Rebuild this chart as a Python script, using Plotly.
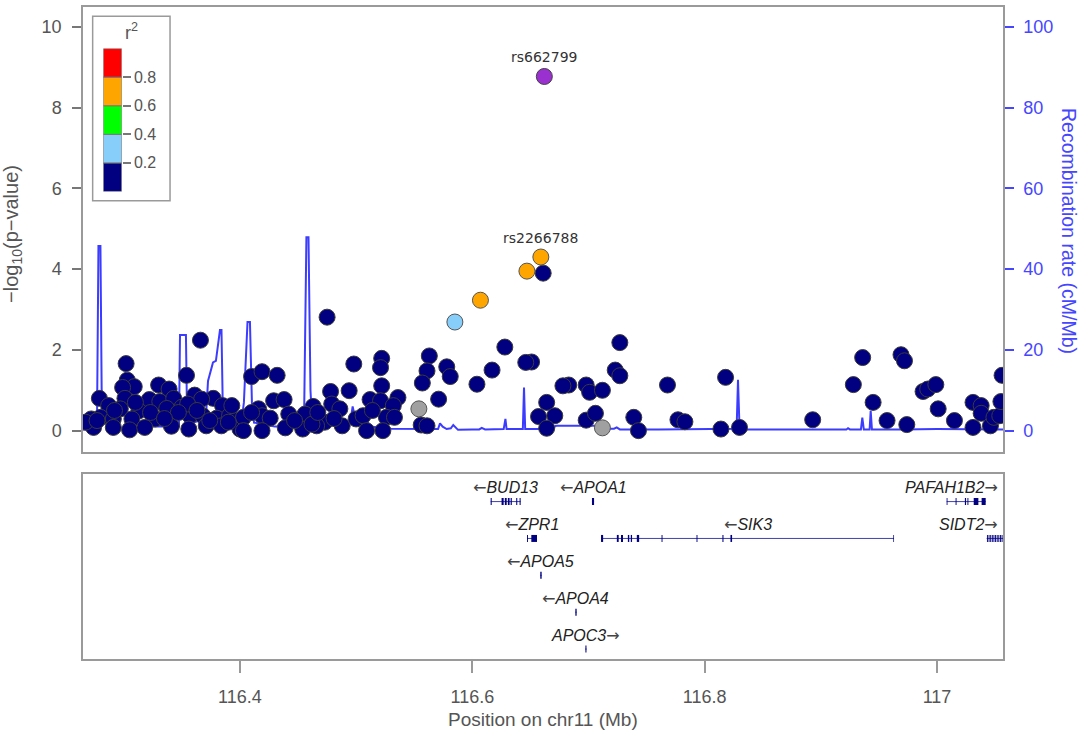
"""Regional association plot around the APOA5/APOA1 locus on chr11."""

import plotly.graph_objects as go

# ---- data -----------------------------------------------------------------
X_RANGE = [116.2649, 117.0568]

# r2 < 0.2 (navy)
navy_pos = [
    116.366, 116.302, 116.354, 116.303, 116.309, 116.299, 116.330, 116.339, 116.279, 116.301,
    116.322, 116.331, 116.343, 116.361, 116.377, 116.367, 116.287, 116.313, 116.297, 116.337,
    116.350, 116.385, 116.272, 116.280, 116.291, 116.307, 116.327, 116.357, 116.368, 116.380,
    116.391, 116.274, 116.291, 116.305, 116.318, 116.341, 116.356, 116.371, 116.384, 116.400,
    116.267, 116.410, 116.403, 116.390, 116.355, 116.277, 116.323, 116.347, 116.292, 116.310,
    116.335, 116.363, 116.374, 116.393,
    116.419, 116.432, 116.498, 116.522, 116.521, 116.478, 116.494, 116.522, 116.429, 116.438,
    116.463, 116.479, 116.486, 116.512, 116.521, 116.536, 116.532, 116.416, 116.442, 116.419,
    116.426, 116.456, 116.473, 116.488, 116.500, 116.506, 116.526, 116.533, 116.403, 116.419,
    116.439, 116.454, 116.466, 116.509, 116.523, 116.462, 116.475, 116.410, 116.447, 116.467,
    116.481, 116.514,
    116.628, 116.651, 116.646, 116.727, 116.563, 116.561, 116.578, 116.581, 116.557, 116.617,
    116.604, 116.571, 116.683, 116.678, 116.698, 116.701, 116.712, 116.723, 116.727, 116.664,
    116.657, 116.671, 116.664, 116.698, 116.706, 116.739, 116.743, 116.556, 116.561, 116.768,
    116.777, 116.783, 116.661,
    116.818, 116.814, 116.830, 116.893, 116.936, 116.928, 116.945, 116.957, 116.974, 116.969,
    116.972, 116.988, 116.992, 116.999, 117.001, 117.015, 117.031, 117.031, 117.038, 117.038,
    117.046, 117.049, 117.054, 117.055, 117.056,
]
navy_logp = [
    2.24, 1.66, 1.37, 1.25, 1.09, 1.07, 1.13, 1.03, 0.80, 0.80,
    0.77, 0.72, 0.80, 0.88, 0.80, 0.78, 0.62, 0.49, 0.54, 0.55,
    0.58, 0.62, 0.29, 0.33, 0.29, 0.29, 0.29, 0.37, 0.37, 0.31,
    0.37, 0.08, 0.08, 0.02, 0.08, 0.11, 0.04, 0.12, 0.12, 0.04,
    0.21, 1.34, 0.33, 0.21, 0.66, 0.25, 0.45, 0.45, 0.50, 0.70,
    0.30, 0.50, 0.25, 0.62,
    1.46, 1.37, 1.65, 1.79, 1.56, 0.97, 0.99, 1.11, 0.74, 0.77,
    0.60, 0.66, 0.54, 0.77, 0.74, 0.82, 0.62, 0.54, 0.41, 0.37,
    0.31, 0.41, 0.21, 0.12, 0.29, 0.37, 0.33, 0.33, 0.00, 0.00,
    0.07, 0.04, 0.12, 0.00, 0.00, 0.16, 2.81, 0.45, 0.25, 0.45,
    0.30, 0.50,
    2.07, 1.70, 1.69, 2.18, 1.85, 1.48, 1.58, 1.34, 1.18, 1.50,
    1.15, 0.78, 1.13, 1.11, 1.13, 0.95, 1.00, 1.50, 1.36, 0.70,
    0.35, 0.37, 0.06, 0.26, 0.43, 0.33, 0.00, 0.14, 0.12, 1.13,
    0.27, 0.22, 3.90,
    1.32, 0.04, 0.08, 0.27, 1.81, 1.14, 0.70, 0.25, 0.15, 1.88,
    1.73, 0.97, 1.03, 1.14, 0.54, 0.25, 0.08, 0.70, 0.62, 0.43,
    0.12, 0.33, 0.37, 0.72, 1.37,
]

# no LD information (grey)
grey_pos = [116.554, 116.712]
grey_logp = [0.54, 0.07]

# 0.2 <= r2 < 0.4 (light blue)
lightblue_pos = [116.585]
lightblue_logp = [2.69]

# 0.6 <= r2 < 0.8 (orange)
orange_pos = [116.607, 116.647, 116.659]
orange_logp = [3.23, 3.95, 4.30]

# index SNP
lead_pos = [116.662]
lead_logp = [8.77]

labelled_snps = ["rs662799", "rs2266788"]
labelled_pos = [116.662, 116.659]
labelled_logp = [8.77, 4.30]

# recombination rate (cM/Mb)
recomb_pos = [
    116.2649, 116.2769, 116.2782, 116.2799, 116.2812, 116.2930, 116.2993, 116.3053, 116.3122, 116.3200,
    116.3400, 116.3475, 116.3484, 116.3535, 116.3544, 116.3600, 116.3707, 116.3725, 116.3768, 116.3793,
    116.3828, 116.3841, 116.3854, 116.3950, 116.4017, 116.4034, 116.4065, 116.4086, 116.4103, 116.4121,
    116.4300, 116.4551, 116.4572, 116.4590, 116.4607, 116.4620, 116.4800, 116.4950, 116.4970, 116.5000,
    116.5050, 116.5120, 116.5300, 116.5600, 116.5705, 116.5722, 116.5745, 116.5779, 116.5815, 116.5836,
    116.5860, 116.5877, 116.6000, 116.6060, 116.6081, 116.6110, 116.6270, 116.6285, 116.6295, 116.6435,
    116.6445, 116.6455, 116.6680, 116.6720, 116.7050, 116.7080, 116.7220, 116.7243, 116.7270, 116.7600,
    116.8275, 116.8287, 116.8300, 116.8320, 116.8340, 116.8800, 116.9220, 116.9234, 116.9250, 116.9345,
    116.9357, 116.9370, 116.9420, 116.9429, 116.9440, 116.9700, 117.0000, 117.0568,
]
recomb_rate = [
    0.3, 0.5, 45.7, 45.7, 2.0, 1.0, 14.0, 7.0, 2.0, 1.0,
    1.0, 1.0, 23.7, 23.7, 5.0, 2.0, 3.0, 12.3, 16.9, 17.3,
    24.9, 24.9, 3.0, 2.0, 3.0, 7.0, 26.9, 26.9, 7.0, 2.0,
    1.0, 1.0, 47.9, 47.9, 10.0, 3.0, 1.5, 2.0, 6.0, 2.0,
    5.0, 1.0, 0.5, 0.3, 0.4, 1.8, 1.0, 0.4, 0.6, 1.4,
    0.8, 0.2, 0.3, 0.3, 0.7, 0.3, 0.4, 2.9, 0.4, 0.4,
    10.7, 0.4, 0.4, 1.2, 1.2, 0.5, 0.5, 0.8, 0.3, 0.3,
    0.5, 12.6, 0.8, 1.0, 0.3, 0.3, 0.3, 0.6, 0.3, 0.3,
    3.2, 0.3, 0.3, 4.9, 0.3, 0.3, 0.4, 0.3,
]

# genes
gene_names = ["BUD13", "APOA1", "PAFAH1B2", "ZPR1", "SIK3", "SIDT2", "APOA5", "APOA4", "APOC3"]
gene_strand = ["-", "-", "+", "-", "-", "+", "-", "-", "+"]
gene_row = [1, 1, 1, 2, 2, 2, 3, 4, 5]
gene_start = [116.6158, 116.7030, 117.0083, 116.6471, 116.7108, 117.0427, 116.6585, 116.6887, 116.6972]
gene_end = [116.6416, 116.7048, 117.0419, 116.6557, 116.9630, 117.0700, 116.6597, 116.6898, 116.6984]
gene_exons = [
    [(116.6158, 116.6167), (116.6252, 116.6270), (116.6280, 116.6296), (116.6306, 116.6321),
     (116.6330, 116.6340), (116.6378, 116.6387), (116.6407, 116.6416)],
    [(116.7030, 116.7048)],
    [(117.0083, 117.0090), (117.0160, 117.0168), (117.0240, 117.0250), (117.0262, 117.0270),
     (117.0316, 117.0356), (117.0384, 117.0419)],
    [(116.6471, 116.6479), (116.6508, 116.6557)],
    [(116.7108, 116.7126), (116.7244, 116.7260), (116.7280, 116.7297), (116.7339, 116.7351),
     (116.7364, 116.7375), (116.7416, 116.7436), (116.7629, 116.7637), (116.7930, 116.7938),
     (116.8153, 116.8162), (116.8222, 116.8236), (116.9624, 116.9630)],
    [(117.0430, 117.0438), (117.0444, 117.0452), (117.0458, 117.0466), (117.0472, 117.0480),
     (117.0486, 117.0494), (117.0500, 117.0508), (117.0514, 117.0522), (117.0528, 117.0536),
     (117.0542, 117.0550), (117.0556, 117.0564)],
    [(116.6585, 116.6597)],
    [(116.6887, 116.6898)],
    [(116.6972, 116.6977), (116.6980, 116.6984)],
]

# r2 legend
legend_bounds = [0.0, 0.2, 0.4, 0.6, 0.8, 1.0]
legend_colors = ["#000080", "#87cefa", "#00ff00", "#ffa500", "#ff0000"]
legend_ticks = [0.2, 0.4, 0.6, 0.8]

x_ticks = [116.4, 116.6, 116.8, 117.0]
x_tick_text = ["116.4", "116.6", "116.8", "117"]

# ---- figure ---------------------------------------------------------------
FONT = "Liberation Sans, Arial, sans-serif"
GREY = "#555555"
FRAME = "#9a9a9a"
BLUE = "#4646ff"

fig = go.Figure()

# recombination line sits on the base axis so the SNPs (overlay axis) draw above it
fig.add_trace(go.Scatter(
    x=recomb_pos, y=recomb_rate, mode="lines",
    line=dict(color="#3c3cff", width=2),
    xaxis="x", yaxis="y", hoverinfo="skip", showlegend=False,
))


def add_snps(pos, logp, color, outline, size=16):
    fig.add_trace(go.Scatter(
        x=pos, y=logp, mode="markers",
        marker=dict(size=size, color=color, line=dict(color=outline, width=1)),
        xaxis="x", yaxis="y2", showlegend=False,
    ))


add_snps(grey_pos, grey_logp, "#a0a0a0", "#555555")
add_snps(navy_pos, navy_logp, "#000080", "#3a3a3a")
add_snps(lightblue_pos, lightblue_logp, "#87cefa", "#555555")
add_snps(orange_pos, orange_logp, "#ffa500", "#555555")
add_snps(lead_pos, lead_logp, "#9a30d0", "#444444")

annotations = []
for name, pos, logp in zip(labelled_snps, labelled_pos, labelled_logp):
    annotations.append(dict(
        x=pos, y=logp, xref="x", yref="y2", text=name, showarrow=False,
        xanchor="center", yanchor="middle",
        yshift=19, font=dict(family="DejaVu Sans", size=14, color="#333333"),
    ))

# gene track
body_x, body_y, exon_x, exon_y = [], [], [], []
for start, end, row, exons in zip(gene_start, gene_end, gene_row, gene_exons):
    body_x += [start, end, None]
    body_y += [row, row, None]
    for e0, e1 in exons:
        exon_x += [e0, e1, None]
        exon_y += [row, row, None]

fig.add_trace(go.Scatter(
    x=body_x, y=body_y, mode="lines", line=dict(color="#4040b0", width=1),
    xaxis="x2", yaxis="y3", hoverinfo="skip", showlegend=False,
))
fig.add_trace(go.Scatter(
    x=exon_x, y=exon_y, mode="lines", line=dict(color="#000080", width=7),
    xaxis="x2", yaxis="y3", hoverinfo="skip", showlegend=False,
))

ARROW = '<span style="font-family:DejaVu Sans;fill:#444444">{}</span>'
for name, strand, row, start, end in zip(gene_names, gene_strand, gene_row, gene_start, gene_end):
    if strand == "-":
        label = ARROW.format("\u2190") + f"<i>{name}</i>"
    else:
        label = f"<i>{name}</i>" + ARROW.format("\u2192")
    if end > X_RANGE[1] - 0.03:
        ann = dict(x=X_RANGE[1], xanchor="right", xshift=-3)
    else:
        ann = dict(x=(start + end) / 2, xanchor="center")
    ann.update(
        y=row, xref="x2", yref="y3", text=label, showarrow=False, yshift=14,
        yanchor="middle", font=dict(family=FONT, size=16, color="#222222"),
    )
    annotations.append(ann)

# r2 colour key
fig.add_trace(go.Bar(
    x=[0] * len(legend_colors),
    y=[b - a for a, b in zip(legend_bounds[:-1], legend_bounds[1:])],
    base=legend_bounds[:-1], width=1,
    marker=dict(color=legend_colors, line=dict(color="#777777", width=1)),
    xaxis="x3", yaxis="y4", hoverinfo="skip", showlegend=False,
))
annotations.append(dict(
    x=0.0522, y=0.962, xref="paper", yref="paper", text="r<sup>2</sup>",
    xanchor="center", yanchor="middle",
    showarrow=False, font=dict(family=FONT, size=18, color=GREY),
))

# axis titles placed as annotations for exact positioning
annotations += [
    dict(x=-0.076, y=0.652, xref="paper", yref="paper", textangle=-90, showarrow=False,
         xanchor="center", yanchor="middle",
         text="\u2212log<sub>10</sub>(p\u2212value)", font=dict(family=FONT, size=20, color=GREY)),
    dict(x=1.071, y=0.656, xref="paper", yref="paper", textangle=90, showarrow=False,
         xanchor="center", yanchor="middle",
         text="Recombination rate (cM/Mb)", font=dict(family=FONT, size=19.5, color=BLUE)),
    dict(x=0.5, y=-0.093, xref="paper", yref="paper", showarrow=False,
         xanchor="center", yanchor="middle",
         text="Position on chr11 (Mb)", font=dict(family=FONT, size=19, color=GREY)),
]

fig.update_layout(
    width=1084, height=736,
    margin=dict(l=83, r=81, t=5, b=77),
    plot_bgcolor="white", paper_bgcolor="white",
    font=dict(family=FONT, color=GREY),
    showlegend=False,
    annotations=annotations,
    shapes=[dict(
        type="rect", xref="paper", yref="paper",
        x0=0.0105, x1=0.0946, y0=0.703, y1=0.986,
        line=dict(color=FRAME, width=1.5), fillcolor="white", layer="below",
    )],
    xaxis=dict(
        domain=[0, 1], range=X_RANGE, anchor="y",
        showline=True, mirror=True, linecolor=FRAME, linewidth=1.5,
        showticklabels=False, ticks="", showgrid=False, zeroline=False,
    ),
    yaxis=dict(
        domain=[0.318, 1], range=[-5.2, 104.9], anchor="x", side="right",
        showline=True, linecolor=FRAME, linewidth=1.5,
        ticks="outside", ticklen=9, tickcolor=BLUE, tickwidth=1.5,
        tickvals=[0, 20, 40, 60, 80, 100], ticklabelstandoff=6,
        tickfont=dict(size=18, color=BLUE),
        showgrid=False, zeroline=False, automargin=False,
    ),
    yaxis2=dict(
        overlaying="y", side="left", range=[-0.52, 10.49], anchor="x",
        showline=True, linecolor=FRAME, linewidth=1.5,
        ticks="outside", ticklen=9, tickcolor="#777777", tickwidth=1.5,
        tickvals=[0, 2, 4, 6, 8, 10], ticklabelstandoff=7,
        tickfont=dict(size=18, color=GREY),
        showgrid=False, zeroline=False, automargin=False,
    ),
    xaxis2=dict(
        domain=[0, 1], range=X_RANGE, anchor="y3",
        showline=True, mirror=True, linecolor=FRAME, linewidth=1.5,
        ticks="outside", ticklen=12, tickcolor=FRAME, tickwidth=1.5,
        tickvals=x_ticks, ticktext=x_tick_text, ticklabelstandoff=9,
        tickfont=dict(size=18, color=GREY),
        showgrid=False, zeroline=False, automargin=False,
    ),
    yaxis3=dict(
        domain=[0, 0.2844], range=[5.27, 0.24], anchor="x2",
        showline=True, mirror=True, linecolor=FRAME, linewidth=1.5,
        showticklabels=False, ticks="", showgrid=False, zeroline=False,
    ),
    xaxis3=dict(
        domain=[0.0221, 0.0421], range=[-0.5, 0.5], anchor="y4", visible=False,
    ),
    yaxis4=dict(
        domain=[0.7171, 0.9362], range=[0, 1], anchor="x3", side="right",
        ticks="outside", ticklen=8, tickcolor="#777777", tickwidth=1.5,
        tickvals=legend_ticks, tickfont=dict(size=16, color=GREY),
        showline=False, showgrid=False, zeroline=False,
    ),
)

# the page's default body margin would push the figure 8px away from the corner
fig.write_html(
    "out.html",
    config={"displayModeBar": False},
    post_script="document.body.style.margin = '0';",
)
